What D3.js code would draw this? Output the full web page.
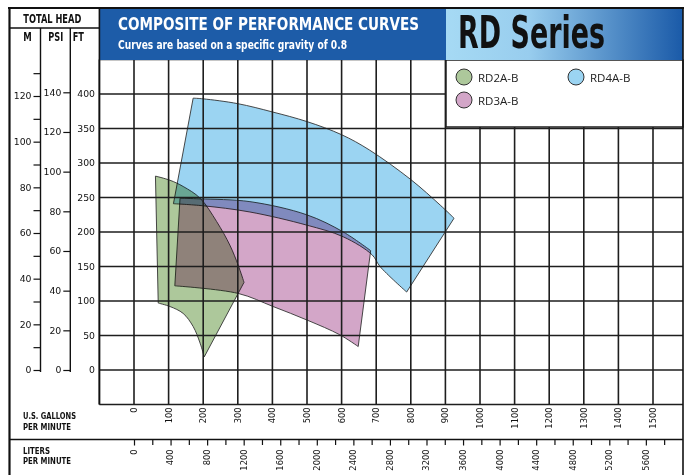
<!DOCTYPE html>
<html><head><meta charset="utf-8">
<script src="https://cdn.jsdelivr.net/npm/d3@7/dist/d3.min.js"></script>
<style>
html,body{margin:0;padding:0;background:#fff;}
svg{display:block;}
.cond{font-family:"Liberation Sans Narrow","DejaVu Sans Condensed","Arial Narrow",sans-serif;font-stretch:condensed;font-weight:bold;}
.tick text{font-family:"DejaVu Sans",Verdana,sans-serif;}
</style></head>
<body>
<svg id="chart" width="692" height="475"></svg>
<script>
// ---------- data ----------
const gpmTicks = [0,100,200,300,400,500,600,700,800,900,1000,1100,1200,1300,1400,1500];
const literTicks = [0,400,800,1200,1600,2000,2400,2800,3200,3600,4000,4400,4800,5200,5600];
const literMinor = [200,600,1000,1400,1800,2200,2600,3000,3400,3800,4200,4600,5000,5400,5800];
const ftTicks = [0,50,100,150,200,250,300,350,400];
const psiTicks = [0,20,40,60,80,100,120,140];
const mTicks = [0,20,40,60,80,100,120];
const mMinor = [10,30,50,70,90,110,130];
const seriesNames = ["RD2A-B","RD3A-B","RD4A-B"];
const seriesColors = ["#adc89b","#d3a6c8","#9bd4f2"];

// performance envelopes: [gpm, ft]
const rd2aTop = [[62,281],[104,275],[142,266],[191,249],[239,215],[277,181],[301,152],[318,127]];
const rd2aBottom = [[203,19],[191,39],[171,63],[142,82],[104,92],[70,97]];
const rd3aTop = [[133,249],[191,248],[335,244],[499,225],[605,200],[684,173]];
const rd3aBottom = [[648,34],[595,51],[502,72],[402,92],[301,111],[118,122]];
const rd4aTop = [[171,394],[200,393],[300,386],[400,374],[500,360],[600,341],[680,319],[800,276],[885,239],[925,220]];
const rd4aBottom = [[788,113],[711,150],[688,167],[605,193],[499,210],[335,229],[200,238],[114,241]];

// ---------- drawing ----------
const svg = d3.select("#chart");
const x = d3.scaleLinear().domain([0,1500]).range([134,653]);
const xL = d3.scaleLinear().domain([0,1500*3.78541]).range([134,653]);
const y = d3.scaleLinear().domain([0,400]).range([370,94]);
const yPsi = d3.scaleLinear().domain([0,140]).range([370,92.3]);
const yM = d3.scaleLinear().domain([0,120]).range([370,96]);
const plotL = x(-100), plotR = 683, plotT = y(450), plotB = y(-50);

svg.append("rect").attr("width",692).attr("height",475).attr("fill","#fff");

// shapes (multiply blending)
const shapes = svg.append("g").style("isolation","isolate");
const curve = d3.line().x(d=>x(d[0])).y(d=>y(d[1])).curve(d3.curveCatmullRom.alpha(0.5));
function envelope(top,bottom){
  return curve(top) + curve(bottom).replace(/^M/,"L") + "Z";
}
[[rd2aTop,rd2aBottom,0],[rd3aTop,rd3aBottom,1],[rd4aTop,rd4aBottom,2]].forEach(([t,b,i])=>{
  shapes.append("path").attr("d",envelope(t,b))
    .attr("fill",seriesColors[i]).attr("stroke","#333").attr("stroke-width",0.9)
    .style("mix-blend-mode","multiply");
});

// grid
const grid = svg.append("g").attr("stroke","#1e1e1e").attr("stroke-width",1.6);
d3.range(-100,1600,100).forEach(g=>{
  grid.append("line").attr("x1",x(g)).attr("x2",x(g)).attr("y1",plotT).attr("y2",plotB);
});
d3.range(-50,500,50).forEach(f=>{
  grid.append("line").attr("x1",plotL).attr("x2",plotR).attr("y1",y(f)).attr("y2",y(f));
});

// legend box
svg.append("rect").attr("x",446).attr("y",60).attr("width",237).attr("height",67)
  .attr("fill","#fff").attr("stroke","#1e1e1e").attr("stroke-width",1.5);
const legPos = [[464,77],[464,100],[576,77]];
seriesNames.forEach((n,i)=>{
  svg.append("circle").attr("cx",legPos[i][0]).attr("cy",legPos[i][1]).attr("r",8)
    .attr("fill",seriesColors[i]).attr("stroke","#333").attr("stroke-width",1);
  svg.append("text").attr("x",legPos[i][0]+14).attr("y",legPos[i][1]+4.5)
    .attr("font-family","'Open Sans','Noto Sans',sans-serif").attr("font-size",11.5)
    .attr("fill","#222").text(n);
});

// header
const defs = svg.append("defs");
const grad = defs.append("linearGradient").attr("id","rdgrad");
grad.append("stop").attr("offset","0%").attr("stop-color","#a6daf4");
grad.append("stop").attr("offset","35%").attr("stop-color","#98cdee");
grad.append("stop").attr("offset","100%").attr("stop-color","#1a5aa8");
svg.append("rect").attr("x",100).attr("y",9).attr("width",346).attr("height",51).attr("fill","#1d5ca8");
svg.append("rect").attr("x",446).attr("y",9).attr("width",237).attr("height",51).attr("fill","url(#rdgrad)");
svg.append("text").attr("class","cond").attr("x",118).attr("y",29.5).attr("font-size",18)
  .attr("fill","#fff").attr("textLength",301).attr("lengthAdjust","spacingAndGlyphs")
  .text("COMPOSITE OF PERFORMANCE CURVES");
svg.append("text").attr("class","cond").attr("x",118).attr("y",48.5).attr("font-size",11.5)
  .attr("fill","#fff").attr("textLength",229).attr("lengthAdjust","spacingAndGlyphs")
  .text("Curves are based on a specific gravity of 0.8");
svg.append("text").attr("class","cond").attr("x",458).attr("y",48.3).attr("font-size",45)
  .attr("fill","#111").attr("textLength",147).attr("lengthAdjust","spacingAndGlyphs")
  .text("RD Series");

// frame lines
const frame = svg.append("g").attr("stroke","#111");
frame.append("line").attr("x1",8).attr("x2",684).attr("y1",8).attr("y2",8).attr("stroke-width",2);
frame.append("line").attr("x1",9.5).attr("x2",9.5).attr("y1",7).attr("y2",475).attr("stroke-width",2.2);
frame.append("line").attr("x1",683).attr("x2",683).attr("y1",7).attr("y2",475).attr("stroke-width",1.6);
frame.append("line").attr("x1",9).attr("x2",100).attr("y1",28).attr("y2",28).attr("stroke-width",1.4);
frame.append("line").attr("x1",40.5).attr("x2",40.5).attr("y1",28).attr("y2",372).attr("stroke-width",1.4);
frame.append("line").attr("x1",70.3).attr("x2",70.3).attr("y1",28).attr("y2",372).attr("stroke-width",1.4);
frame.append("line").attr("x1",plotL).attr("x2",plotL).attr("y1",8).attr("y2",plotB).attr("stroke-width",1.6);
frame.append("line").attr("x1",9).attr("x2",683).attr("y1",439.5).attr("y2",439.5).attr("stroke-width",1.6);

// header labels
const hdr = [["TOTAL HEAD",23.3,22.5,58],["M",23.3,40.5,8.5],["PSI",48.3,40.5,15],["FT",72.7,40.5,11.3]];
hdr.forEach(h=>svg.append("text").attr("class","cond").attr("x",h[1]).attr("y",h[2])
  .attr("font-size",11.5).attr("fill","#111")
  .attr("textLength",h[3]).attr("lengthAdjust","spacingAndGlyphs").text(h[0]));

// left axes
function styleAxis(g){g.select(".domain").remove();g.selectAll(".tick line").attr("stroke","#111").attr("stroke-width",1.2);
  g.selectAll(".tick text").attr("font-size",9.3).attr("fill","#111");}
svg.append("g").attr("transform","translate(40.5,0)")
  .call(d3.axisLeft(yM).tickValues(mTicks).tickSize(7).tickPadding(2).tickFormat(d3.format("d"))).call(styleAxis);
svg.append("g").attr("transform","translate(40.5,0)")
  .call(d3.axisLeft(yM).tickValues(mMinor).tickSize(7).tickFormat("")).call(styleAxis);
svg.append("g").attr("transform","translate(70.3,0)")
  .call(d3.axisLeft(yPsi).tickValues(psiTicks).tickSize(7).tickPadding(2).tickFormat(d3.format("d"))).call(styleAxis);
const ftAx = svg.append("g");
ftTicks.forEach(f=>ftAx.append("text").attr("x",95).attr("y",y(f)).attr("dy","0.35em")
  .attr("text-anchor","end").attr("font-family","'DejaVu Sans',sans-serif").attr("font-size",9.3).attr("fill","#111").text(f));

// gallons labels
gpmTicks.forEach(g=>svg.append("text")
  .attr("transform",`translate(${x(g)},407.5) rotate(-90)`).attr("dy","0.35em")
  .attr("text-anchor","end").attr("font-family","'DejaVu Sans',sans-serif").attr("font-size",8.3).attr("fill","#111").text(g));

// liters axis
svg.append("g").attr("transform","translate(0,439.5)")
  .call(d3.axisBottom(xL).tickValues(literMinor).tickSize(5.5).tickFormat("")).call(styleAxis);
const la = svg.append("g").attr("transform","translate(0,439.5)")
  .call(d3.axisBottom(xL).tickValues(literTicks).tickSize(6).tickFormat(""));
styleAxis(la);
literTicks.forEach(l=>svg.append("text")
  .attr("transform",`translate(${xL(l)},449.5) rotate(-90)`).attr("dy","0.35em")
  .attr("text-anchor","end").attr("font-family","'DejaVu Sans',sans-serif").attr("font-size",8.3).attr("fill","#111").text(l));

// unit labels
[["U.S. GALLONS",23,418.5,53],["PER MINUTE",23,429.5,48],["LITERS",23,453.5,27],["PER MINUTE",23,463.5,48]]
  .forEach(t=>svg.append("text").attr("class","cond").attr("x",t[1]).attr("y",t[2]).attr("font-size",8.5)
  .attr("fill","#111").attr("textLength",t[3]).attr("lengthAdjust","spacingAndGlyphs").text(t[0]));
</script>
</body></html>
